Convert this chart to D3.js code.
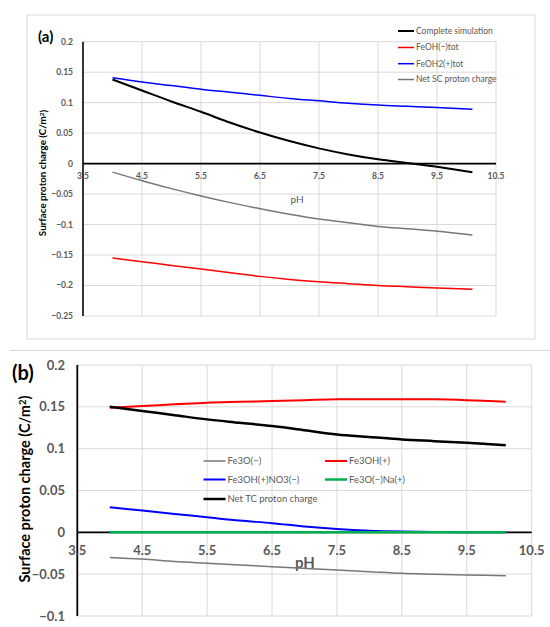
<!DOCTYPE html>
<html>
<head>
<meta charset="utf-8">
<script src="https://cdn.jsdelivr.net/npm/d3@7"></script>
<style>
  html, body { margin: 0; padding: 0; background: #fff; }
  svg { display: block; }
  text { font-family: Lato, "Open Sans", "Liberation Sans", sans-serif; }
</style>
</head>
<body>
<svg id="chart" width="550" height="627"></svg>
<script>
// ---------- DATA ----------
const pH = [4.0, 4.5, 5.0, 5.5, 6.0, 6.5, 7.0, 7.5, 8.0, 8.5, 9.0, 9.5, 10.1];

// Panel (a)
const aCompleteSimulation = [0.138, 0.120, 0.102, 0.085, 0.067, 0.051, 0.037, 0.025, 0.015, 0.007, 0.001, -0.005, -0.014];
const aFeOHminusTot      = [-0.155, -0.161, -0.167, -0.173, -0.179, -0.185, -0.190, -0.194, -0.197, -0.200, -0.202, -0.204, -0.206];
const aFeOH2plusTot      = [0.141, 0.134, 0.128, 0.122, 0.117, 0.112, 0.107, 0.103, 0.099, 0.096, 0.094, 0.092, 0.089];
const aNetSC             = [-0.014, -0.028, -0.041, -0.053, -0.064, -0.074, -0.083, -0.091, -0.097, -0.103, -0.107, -0.111, -0.117];
const aLegend = ["Complete simulation", "FeOH(\u2212)tot", "FeOH2(+)tot", "Net SC proton charge"];

// Panel (b)
const bFe3Ominus    = [-0.030, -0.032, -0.035, -0.037, -0.039, -0.041, -0.043, -0.045, -0.047, -0.049, -0.050, -0.051, -0.052];
const bFe3OHplus    = [0.149, 0.151, 0.153, 0.155, 0.156, 0.157, 0.158, 0.159, 0.159, 0.159, 0.159, 0.158, 0.156];
const bFe3OHNO3     = [0.030, 0.026, 0.022, 0.018, 0.014, 0.011, 0.007, 0.004, 0.002, 0.001, 0.0005, 0.0002, 0.0001];
const bFe3ONa       = [0, 0, 0, 0, 0, 0, 0, 0, 0, 0, 0, 0, 0];
const bNetTC        = [0.150, 0.145, 0.140, 0.135, 0.131, 0.127, 0.122, 0.117, 0.114, 0.111, 0.109, 0.107, 0.104];
const bLegend = ["Fe3O(\u2212)", "Fe3OH(+)", "Fe3OH(+)NO3(\u2212)", "Fe3O(\u2212)Na(+)", "Net TC proton charge"];

// Tick labels
const xTicks = [3.5, 4.5, 5.5, 6.5, 7.5, 8.5, 9.5, 10.5];
const aYTicks = [0.2, 0.15, 0.1, 0.05, 0, -0.05, -0.1, -0.15, -0.2, -0.25];
const bYTicks = [0.2, 0.15, 0.1, 0.05, 0, -0.05, -0.1];

// ---------- DRAW ----------
const svg = d3.select("#chart");
const GRID = "#d9d9d9", TICK = "#595959";
const fmt = v => (v < 0 ? "\u2212" + String(Math.abs(v)) : String(v));

function panel(cfg) {
  const x = d3.scaleLinear().domain([3.5, 10.5]).range([cfg.left, cfg.right]);
  const y = d3.scaleLinear().domain(cfg.yDomain).range([cfg.bottom, cfg.top]);
  const g = svg.append("g");

  // grid
  g.selectAll(".vg").data(xTicks.slice(1)).join("line")
    .attr("x1", d => x(d)).attr("x2", d => x(d))
    .attr("y1", cfg.top).attr("y2", cfg.bottom)
    .attr("stroke", GRID).attr("stroke-width", 1);
  g.selectAll(".hg").data(cfg.yTicks).join("line")
    .attr("x1", cfg.left).attr("x2", cfg.right)
    .attr("y1", d => y(d)).attr("y2", d => y(d))
    .attr("stroke", GRID).attr("stroke-width", 1);

  // axes
  g.append("line").attr("x1", cfg.left).attr("x2", cfg.left)
    .attr("y1", cfg.top).attr("y2", cfg.bottom)
    .attr("stroke", "#000").attr("stroke-width", cfg.axisW);
  g.append("line").attr("x1", cfg.left).attr("x2", cfg.right)
    .attr("y1", y(0)).attr("y2", y(0))
    .attr("stroke", "#000").attr("stroke-width", cfg.axisW);

  // tick labels
  g.selectAll(".yt").data(cfg.yTicks).join("text")
    .attr("x", cfg.yLabelX).attr("y", d => y(d))
    .attr("dy", "0.35em").attr("text-anchor", "end")
    .attr("font-size", cfg.tickFs).attr("font-weight", "bold").attr("fill", TICK)
    .text(fmt);
  g.selectAll(".xt").data(xTicks).join("text")
    .attr("x", d => x(d)).attr("y", cfg.xLabelY)
    .attr("dy", "0.35em").attr("text-anchor", "middle")
    .attr("font-size", cfg.tickFs).attr("font-weight", "bold").attr("fill", TICK)
    .text(d => String(d));

  // titles
  g.append("text").attr("x", cfg.phX).attr("y", cfg.phY).attr("dy", "0.35em")
    .attr("text-anchor", "middle").attr("font-size", cfg.phFs)
    .attr("font-weight", cfg.phW).attr("fill", TICK).text("pH");
  g.append("text")
    .attr("transform", `translate(${cfg.ytX},${cfg.ytY}) rotate(-90)`)
    .attr("dy", "0.35em").attr("text-anchor", "middle")
    .attr("font-size", cfg.ytFs).attr("font-weight", "bold").attr("fill", "#000")
    .html("Surface proton charge (C/m<tspan font-size='" + (cfg.ytFs * 0.65) + "' dy='-0.45em'>2</tspan><tspan dy='0.3em'>)</tspan>");
  g.append("text").attr("x", cfg.tagX).attr("y", cfg.tagY).attr("dy", "0.35em")
    .attr("font-size", cfg.tagFs).attr("font-weight", "bold").attr("fill", "#000")
    .text(cfg.tag);

  // series
  const line = d3.line().x((d, i) => x(pH[i])).y(d => y(d)).curve(d3.curveCatmullRom.alpha(0.5));
  cfg.series.forEach(s => {
    g.append("path").datum(s.values).attr("d", line)
      .attr("fill", "none").attr("stroke", s.color).attr("stroke-width", s.w)
      .attr("stroke-linejoin", "round");
  });

  // legend
  cfg.legend.forEach(l => {
    g.append("line").attr("x1", l.x).attr("x2", l.x + cfg.legLen)
      .attr("y1", l.y).attr("y2", l.y)
      .attr("stroke", l.color).attr("stroke-width", l.w);
    g.append("text").attr("x", l.x + cfg.legLen + 2).attr("y", l.y).attr("dy", "0.35em")
      .attr("font-size", cfg.legFs).attr("fill", TICK).text(l.label);
  });
}

// panel (a) frame
svg.append("rect").attr("x", 27).attr("y", 15).attr("width", 508).attr("height", 324)
  .attr("fill", "#fff").attr("stroke", GRID).attr("stroke-width", 1);
// separator line
svg.append("line").attr("x1", 10).attr("x2", 550).attr("y1", 350.5).attr("y2", 350.5)
  .attr("stroke", GRID).attr("stroke-width", 1.2);

const cA = { black: "#000", red: "#ff0000", blue: "#0000ff", gray: "#777777", green: "#00b050" };

panel({
  left: 83, right: 496, top: 41.7, bottom: 316, yDomain: [-0.25, 0.2], yTicks: aYTicks,
  axisW: 1.6, tickFs: 8.5, yLabelX: 73, xLabelY: 176,
  phX: 297, phY: 199, phFs: 10, phW: "normal",
  ytX: 43, ytY: 173, ytFs: 9.8,
  tag: "(a)", tagX: 38, tagY: 37, tagFs: 15,
  series: [
    { values: aNetSC, color: cA.gray, w: 1.5 },
    { values: aFeOHminusTot, color: cA.red, w: 1.5 },
    { values: aFeOH2plusTot, color: cA.blue, w: 1.5 },
    { values: aCompleteSimulation, color: cA.black, w: 2 }
  ],
  legLen: 16, legFs: 8.5,
  legend: [
    { x: 398, y: 31, color: cA.black, w: 2, label: aLegend[0] },
    { x: 398, y: 47.5, color: cA.red, w: 1.5, label: aLegend[1] },
    { x: 398, y: 63.7, color: cA.blue, w: 1.5, label: aLegend[2] },
    { x: 398, y: 79.5, color: cA.gray, w: 1.5, label: aLegend[3] }
  ]
});

panel({
  left: 77.3, right: 531.7, top: 365, bottom: 616, yDomain: [-0.1, 0.2], yTicks: bYTicks,
  axisW: 1.8, tickFs: 13, yLabelX: 65, xLabelY: 550,
  phX: 305, phY: 563, phFs: 15, phW: "bold",
  ytX: 25, ytY: 489, ytFs: 14.5,
  tag: "(b)", tagX: 12, tagY: 373, tagFs: 20,
  series: [
    { values: bFe3Ominus, color: cA.gray, w: 1.5 },
    { values: bFe3OHplus, color: cA.red, w: 2 },
    { values: bFe3OHNO3, color: cA.blue, w: 2 },
    { values: bFe3ONa, color: cA.green, w: 2.5 },
    { values: bNetTC, color: cA.black, w: 2.5 }
  ],
  legLen: 22, legFs: 9.5,
  legend: [
    { x: 203.5, y: 461, color: cA.gray, w: 1.5, label: bLegend[0] },
    { x: 325, y: 461, color: cA.red, w: 2, label: bLegend[1] },
    { x: 203.5, y: 479.5, color: cA.blue, w: 2, label: bLegend[2] },
    { x: 325, y: 479.5, color: cA.green, w: 2.5, label: bLegend[3] },
    { x: 203.5, y: 499, color: cA.black, w: 2.5, label: bLegend[4] }
  ]
});
</script>
</body>
</html>
